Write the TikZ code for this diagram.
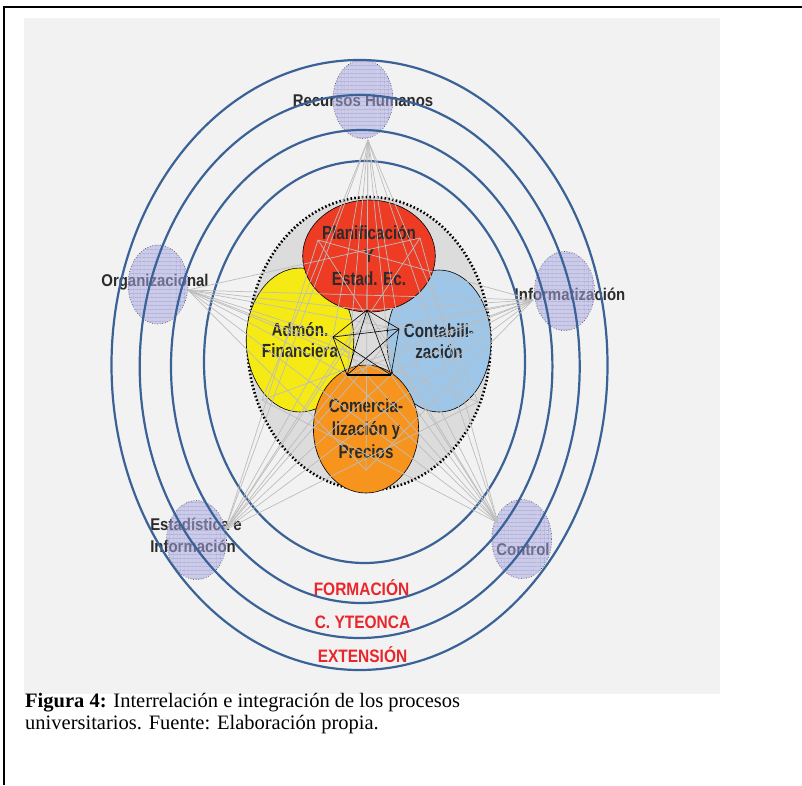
\documentclass[tikz,border=0pt]{standalone}
\usepackage{fontspec}
\setmainfont{Liberation Serif}
\newfontfamily\outerfont[FakeStretch=0.88]{Liberation Sans}
\newfontfamily\innerfont[FakeStretch=0.8]{Liberation Sans}
\newfontfamily\redfont[FakeStretch=0.86]{Liberation Sans}
\usetikzlibrary{shapes.geometric,patterns,patterns.meta}
\definecolor{bgc}{HTML}{F2F2F2}
\definecolor{ringc}{HTML}{3A6297}
\definecolor{redc}{HTML}{EE3B24}
\definecolor{yelc}{HTML}{F5EA14}
\definecolor{bluc}{HTML}{9DC6E8}
\definecolor{orac}{HTML}{F7941D}
\definecolor{lavc}{HTML}{A8A8E2}
\definecolor{gridc}{HTML}{7878C4}
\definecolor{txtc}{HTML}{2B2B2B}
\definecolor{redtxt}{HTML}{E8262B}
\definecolor{greyline}{HTML}{BDBDBD}
\definecolor{innerbg}{HTML}{DCDCDC}
\tikzset{
  ring/.style={draw=ringc, line width=2.2pt},
  sat/.style={ellipse, minimum width=60pt, minimum height=79pt, inner sep=0pt,
    draw=black!80, dotted, line width=0.6pt,
    preaction={fill=lavc, fill opacity=0.5},
    postaction={fill opacity=0.45, pattern={Lines[angle=0,distance=4pt,line width=0.4pt]}, pattern color=gridc},
    postaction={fill opacity=0.45, pattern={Lines[angle=90,distance=4pt,line width=0.4pt]}, pattern color=gridc}},
  outerlabel/.style={font=\outerfont\bfseries\fontsize{17}{22}\selectfont, text=txtc, inner sep=0pt},
  proc/.style={ellipse, inner sep=0pt, draw=black, line width=0.6pt, align=center, text=txtc,
    font=\innerfont\bfseries\fontsize{19}{23}\selectfont},
  redlabel/.style={font=\redfont\bfseries\fontsize{18}{22}\selectfont, text=redtxt, inner sep=0pt},
  gline/.style={draw=greyline, line width=0.7pt},
  bline/.style={draw=black, line width=0.6pt}
}
\begin{document}
\begin{tikzpicture}[x=1pt,y=-1pt]
\useasboundingbox (0,0) rectangle (802,785);
\fill[white] (0,0) rectangle (802,785);
\fill[bgc] (24,18) rectangle (720,694);
\draw[line width=1.3pt] (802,7) -- (4,7) -- (4,785);

% outer labels (under the satellite ellipses)
\node[outerlabel] (lrh) at (363,101) {Recursos Humanos};
\node[outerlabel] (lor) at (155,282) {Organizacional};
\node[outerlabel] (lin) at (570,294) {Informatización};
\node[outerlabel, align=left] (les) at (196,535) {Estadística e\\Información};
\node[outerlabel] (lco) at (523,549) {Control};

% satellite ellipses
\node[sat] (rh) at (363,99) {};
\node[sat] (or) at (158,284.5) {};
\node[sat] (in) at (564.5,291) {};
\node[sat] (es) at (196.5,540) {};
\node[sat] (co) at (521.7,539) {};

% rings
\draw[ring] (359.5,365) ellipse [x radius=248pt, y radius=305pt];
\draw[ring] (359.7,366.5) ellipse [x radius=220pt, y radius=271.5pt];
\draw[ring] (361.7,366.5) ellipse [x radius=190.7pt, y radius=236.5pt];
\draw[ring] (364.5,362) ellipse [x radius=160.5pt, y radius=201pt];

% dotted inner region
\node[ellipse, minimum width=243pt, minimum height=293pt, inner sep=0pt, fill=innerbg,
  draw=black, line width=2.6pt, dash pattern=on 1.6pt off 2.2pt] (core) at (369,343.5) {};

% process ellipses
\node[proc, fill=yelc, minimum width=104pt, minimum height=144pt] (adm) at (300,340) {Admón.\\[-2pt]Financiera};
\node[proc, fill=bluc, minimum width=104pt, minimum height=142pt] (con) at (439,341) {Contabili-\\[-2pt]zación};
\node[proc, fill=orac, minimum width=104pt, minimum height=128pt] (com) at (366,429) {Comercia-\\lización y\\Precios};
\node[proc, fill=redc, minimum width=108pt, minimum height=112pt] (pla) at (369,256) {Planificación\\Y\\Estad. Ec.};

% attachment coordinates
\coordinate (prh) at (368,140);
\coordinate (por) at (188,290);
\coordinate (pin) at (533,300);
\coordinate (pes) at (225,530);
\coordinate (pco) at (498,523);
\coordinate (st) at (367,310);
\coordinate (sl) at (333,337);
\coordinate (sr) at (399,329);
\coordinate (sbl) at (347,375);
\coordinate (sbr) at (391,375);
\coordinate (xa) at (318,240);
\coordinate (xb) at (420,238);
\coordinate (xc) at (262,400);
\coordinate (xd) at (478,402);
\coordinate (xe) at (366,470);

% grey web: star between the satellites, fans to the centre
\foreach \a/\b in {prh/pes,prh/pco,por/pin,por/pco,pin/pes}
  \draw[gline] (\a) -- (\b);
\foreach \a in {prh,por,pin,pes,pco}
  \foreach \b in {st,sl,sr,sbl,sbr}
    \draw[gline] (\a) -- (\b);
\foreach \a/\b in {prh/xc,prh/xd,prh/xe,por/xb,por/xd,por/xe,pin/xa,pin/xc,pin/xe,pes/xa,pes/xb,pes/xd,pco/xa,pco/xb,pco/xc}
  \draw[gline] (\a) -- (\b);

% black centre star
\foreach \a/\b in {st/sl,st/sr,st/sbl,st/sbr,sl/sr,sl/sbl,sl/sbr,sr/sbl,sr/sbr}
  \draw[bline] (\a) -- (\b);
\draw[black, line width=2.4pt] (sbl) -- (sbr);

% red labels
\node[redlabel] (f1) at (361.5,588) {FORMACIÓN};
\node[redlabel] (f2) at (362.5,622) {C. YTEONCA};
\node[redlabel] (f3) at (362.5,655) {EXTENSIÓN};

% caption
\node[anchor=north west, align=left, inner sep=0pt, font=\fontsize{20.5}{22}\selectfont] (cap) at (25,693)
  {\textbf{Figura 4:} Interrelación e integración de los procesos\\universitarios. Fuente: Elaboración propia.};
\end{tikzpicture}
\end{document}
